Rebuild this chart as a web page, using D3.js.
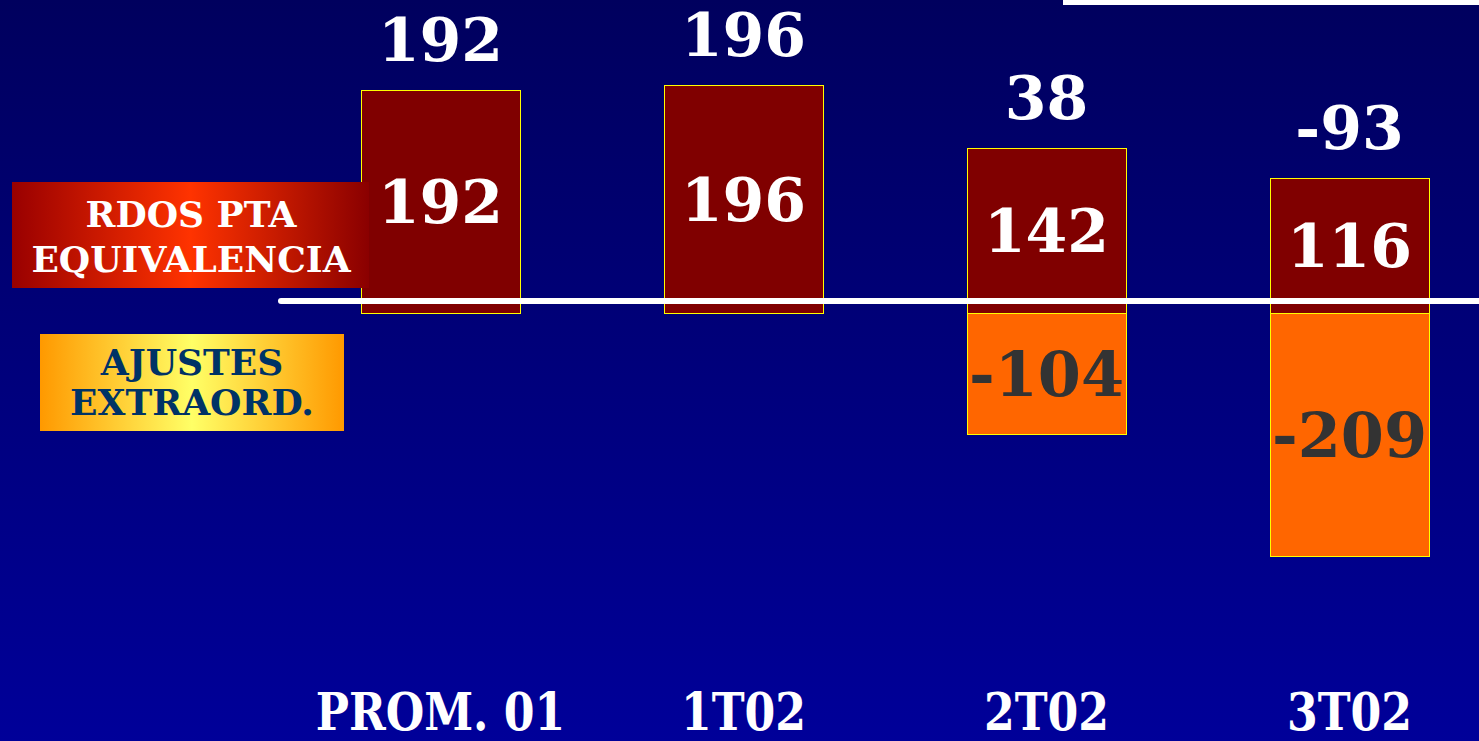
<!DOCTYPE html>
<html>
<head>
<meta charset="utf-8">
<script src="https://cdn.jsdelivr.net/npm/d3@7"></script>
<style>
  html, body { margin: 0; padding: 0; background: #000080; overflow: hidden; }
  svg { display: block; }
  text { font-family: 'DejaVu Serif', serif; font-weight: bold; }
</style>
</head>
<body>
<svg></svg>
<script>
// chart data
const categories = ['PROM. 01', '1T02', '2T02', '3T02'];
const rdos = [192, 196, 142, 116];      // RDOS PTA EQUIVALENCIA
const ajustes = [0, 0, -104, -209];     // AJUSTES EXTRAORD.
const legendRdos = ['RDOS PTA', 'EQUIVALENCIA'];
const legendAjustes = ['AJUSTES', 'EXTRAORD.'];

const width = 1479;
const height = 741;

const svg = d3.select('svg')
  .attr('width', width)
  .attr('height', height);

const defs = svg.append('defs');

const bg = defs.append('linearGradient')
  .attr('id', 'bg')
  .attr('x1', 0).attr('y1', 0).attr('x2', 0).attr('y2', 1);
bg.append('stop').attr('offset', '0%').attr('stop-color', '#00005e');
bg.append('stop').attr('offset', '100%').attr('stop-color', '#000099');

const redGrad = defs.append('linearGradient').attr('id', 'redGrad');
redGrad.append('stop').attr('offset', '0%').attr('stop-color', '#990000');
redGrad.append('stop').attr('offset', '50%').attr('stop-color', '#ff3300');
redGrad.append('stop').attr('offset', '100%').attr('stop-color', '#8a0000');

const orangeGrad = defs.append('linearGradient').attr('id', 'orangeGrad');
orangeGrad.append('stop').attr('offset', '0%').attr('stop-color', '#ff9900');
orangeGrad.append('stop').attr('offset', '50%').attr('stop-color', '#ffff66');
orangeGrad.append('stop').attr('offset', '100%').attr('stop-color', '#ff9900');

svg.append('rect')
  .attr('width', width)
  .attr('height', height)
  .attr('fill', 'url(#bg)');

// white bar at top right
svg.append('rect')
  .attr('x', 1063).attr('y', 0)
  .attr('width', width - 1063).attr('height', 5)
  .attr('fill', '#fff');

const x = d3.scaleBand()
  .domain(categories)
  .range([289, 1501])
  .paddingInner(0.475)
  .paddingOuter(0.2375);

const y = d3.scaleLinear()
  .domain([-209, 196])
  .range([556, 85]);

const data = categories.map((c, i) => ({
  cat: c,
  rdos: rdos[i],
  aj: ajustes[i],
  total: rdos[i] + ajustes[i],
}));

const g = svg.append('g');

// maroon bars (positive part)
g.selectAll('rect.rdos')
  .data(data)
  .enter()
  .append('rect')
  .attr('class', 'rdos')
  .attr('x', d => Math.round(x(d.cat)) + 0.5)
  .attr('y', d => Math.round(y(d.rdos)) + 0.5)
  .attr('width', Math.round(x.bandwidth()))
  .attr('height', d => Math.round(y(0)) - Math.round(y(d.rdos)))
  .attr('fill', '#800000')
  .attr('stroke', '#ffff00')
  .attr('stroke-width', 1);

// orange bars (negative adjustments)
g.selectAll('rect.aj')
  .data(data.filter(d => d.aj !== 0))
  .enter()
  .append('rect')
  .attr('class', 'aj')
  .attr('x', d => Math.round(x(d.cat)) + 0.5)
  .attr('y', Math.round(y(0)) + 0.5)
  .attr('width', Math.round(x.bandwidth()))
  .attr('height', d => Math.round(y(d.aj)) - Math.round(y(0)))
  .attr('fill', '#ff6600')
  .attr('stroke', '#ffff00')
  .attr('stroke-width', 1);

// labels inside bars
g.selectAll('text.rdos')
  .data(data)
  .enter()
  .append('text')
  .attr('class', 'rdos')
  .attr('x', d => x(d.cat) + x.bandwidth() / 2)
  .attr('y', d => (y(d.rdos) + y(0)) / 2 + 22)
  .attr('text-anchor', 'middle')
  .attr('font-size', 60)
  .attr('fill', '#fff')
  .text(d => d.rdos);

g.selectAll('text.aj')
  .data(data.filter(d => d.aj !== 0))
  .enter()
  .append('text')
  .attr('class', 'aj')
  .attr('x', d => x(d.cat) + x.bandwidth() / 2)
  .attr('y', d => (y(d.aj) + y(0)) / 2 + 23)
  .attr('text-anchor', 'middle')
  .attr('font-size', 62)
  .attr('fill', '#333333')
  .text(d => d.aj);

// totals above bars
g.selectAll('text.total')
  .data(data)
  .enter()
  .append('text')
  .attr('class', 'total')
  .attr('x', d => x(d.cat) + x.bandwidth() / 2)
  .attr('y', d => y(d.rdos) - 29)
  .attr('text-anchor', 'middle')
  .attr('font-size', 60)
  .attr('fill', '#fff')
  .text(d => d.total);

// white reference line
svg.append('line')
  .attr('x1', 281).attr('x2', width + 5)
  .attr('y1', 301).attr('y2', 301)
  .attr('stroke', '#fff')
  .attr('stroke-width', 6)
  .attr('stroke-linecap', 'round');

// category labels
svg.selectAll('text.cat')
  .data(categories)
  .enter()
  .append('text')
  .attr('class', 'cat')
  .attr('x', d => x(d) + x.bandwidth() / 2)
  .attr('y', 730)
  .attr('text-anchor', 'middle')
  .attr('font-size', 52)
  .attr('fill', '#fff')
  .attr('transform', d => {
    const cx = x(d) + x.bandwidth() / 2;
    return `translate(${cx},0) scale(0.85,1) translate(${-cx},0)`;
  })
  .text(d => d);

// legend boxes
const leg1 = svg.append('g');
leg1.append('rect')
  .attr('x', 12).attr('y', 182)
  .attr('width', 357).attr('height', 106)
  .attr('fill', 'url(#redGrad)');
leg1.selectAll('text')
  .data(legendRdos)
  .enter()
  .append('text')
  .attr('x', 191)
  .attr('y', (d, i) => 227 + i * 45)
  .attr('text-anchor', 'middle')
  .attr('font-size', 36)
  .attr('fill', '#fff')
  .text(d => d);

const leg2 = svg.append('g');
leg2.append('rect')
  .attr('x', 40).attr('y', 334)
  .attr('width', 304).attr('height', 97)
  .attr('fill', 'url(#orangeGrad)');
leg2.selectAll('text')
  .data(legendAjustes)
  .enter()
  .append('text')
  .attr('x', 192)
  .attr('y', (d, i) => 375 + i * 40)
  .attr('text-anchor', 'middle')
  .attr('font-size', 36)
  .attr('fill', '#003366')
  .text(d => d);
</script>
</body>
</html>
